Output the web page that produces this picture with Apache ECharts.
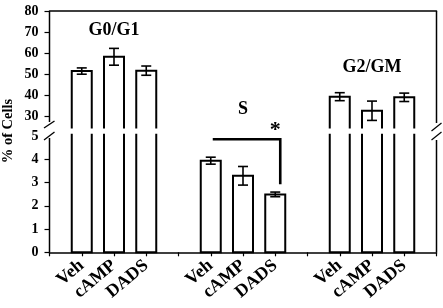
<!DOCTYPE html>
<html>
<head>
<meta charset="utf-8">
<script src="https://cdn.jsdelivr.net/npm/echarts@6/dist/echarts.min.js"></script>
<style>html,body{margin:0;padding:0;background:#fff;}#c{width:443px;height:308px;}</style>
</head>
<body>
<div id="c"></div>
<script>
const treatments = ['Veh', 'cAMP', 'DADS'];
const phases = ['G0/G1', 'S', 'G2/GM'];
const g0g1Mean = [51.4, 58.2, 51.6];
const g0g1Err = [1.5, 4.0, 2.2];
const sMean = [3.94, 3.29, 2.49];
const sErr = [0.15, 0.40, 0.10];
const g2gmMean = [39.2, 32.5, 38.9];
const g2gmErr = [1.9, 4.6, 2.0];
const upperTicks = [30, 40, 50, 60, 70, 80];
const lowerTicks = [0, 1, 2, 3, 4, 5];
const lowerTickMarks = [0, 1, 2, 3, 4];
const yAxisTitle = '% of Cells';
const sigMark = '*';

// build category axis: spacer, 3 treatments per phase, ..., spacer
const categories = [];
const phaseMeans = [g0g1Mean, sMean, g2gmMean];
const phaseErrs = [g0g1Err, sErr, g2gmErr];
const upperBars = [], lowerBars = [], upperErr = [], lowerErr = [];
phases.forEach((p, pi) => {
  categories.push('');
  treatments.forEach((t, ti) => {
    const idx = categories.length;
    categories.push(t);
    const m = phaseMeans[pi][ti], e = phaseErrs[pi][ti];
    lowerBars.push([idx, m]);
    if (p === 'S') { lowerErr.push([idx, m, e]); }
    else { upperBars.push([idx, m]); upperErr.push([idx, m, e]); }
  });
});
categories.push('');

const FONT = "'Liberation Serif', 'Times New Roman', serif";
const UP_MIN = 24, UP_MAX = 80, LO_MIN = 0, LO_MAX = 5.1;

function renderErr(params, api) {
  const x = api.value(0), y = api.value(1), e = api.value(2);
  const top = api.coord([x, y + e]);
  const bot = api.coord([x, y - e]);
  const hw = 5;
  const st = { stroke: '#000', lineWidth: 1.6 };
  return { type: 'group', children: [
    { type: 'line', shape: { x1: top[0], y1: top[1], x2: bot[0], y2: bot[1] }, style: st },
    { type: 'line', shape: { x1: top[0] - hw, y1: top[1], x2: top[0] + hw, y2: top[1] }, style: st },
    { type: 'line', shape: { x1: bot[0] - hw, y1: bot[1], x2: bot[0] + hw, y2: bot[1] }, style: st }
  ]};
}

// bars with open ends where the axis is broken
function makeBarRenderer(isUpper) {
  return function (params, api) {
    const x = api.value(0), v = api.value(1);
    const cs = params.coordSys;
    const hw = 10;
    const c = api.coord([x, v]);
    const l = c[0] - hw, r = c[0] + hw;
    const gTop = cs.y, gBot = cs.y + cs.height;
    const ty = Math.max(c[1], gTop);
    const st = { stroke: '#000', lineWidth: 2, fill: null };
    let pts, open;
    if (isUpper) { pts = [[l, gBot], [l, ty], [r, ty], [r, gBot]]; open = true; }
    else if (c[1] <= gTop) { pts = [[l, gTop], [l, gBot], [r, gBot], [r, gTop]]; open = true; }
    else { open = false; }
    if (open) {
      return { type: 'group', children: [
        { type: 'rect', shape: { x: l, y: Math.min(pts[0][1], pts[1][1]), width: 2 * hw, height: Math.abs(pts[1][1] - pts[0][1]) }, style: { fill: '#fff' } },
        { type: 'polyline', shape: { points: pts }, style: st }
      ]};
    }
    return { type: 'rect', shape: { x: l, y: ty, width: 2 * hw, height: gBot - ty }, style: { fill: '#fff', stroke: '#000', lineWidth: 2 } };
  };
}

const chart = echarts.init(document.getElementById('c'), null, { renderer: 'canvas' });
const yLabel = { color: '#000', fontFamily: FONT, fontWeight: 'bold', fontSize: 14, margin: 11 };

chart.setOption({
  animation: false,
  backgroundColor: '#fff',
  grid: [
    { left: 49.5, right: 6.5, top: 11, height: 117.6 },
    { left: 49.5, right: 6.5, top: 133.7, bottom: 55.7 }
  ],
  xAxis: [
    { gridIndex: 0, type: 'category', data: categories, boundaryGap: false, position: 'top',
      axisLine: { show: true, lineStyle: { color: '#000', width: 1.5 } },
      axisTick: { show: false }, axisLabel: { show: false } },
    { gridIndex: 1, type: 'category', data: categories, boundaryGap: false,
      axisLine: { lineStyle: { color: '#000', width: 1.5 } },
      axisTick: { show: true, length: 4, interval: 0, lineStyle: { color: '#000', width: 1.2 } },
      axisLabel: { interval: 0, rotate: 40, margin: 11, color: '#000', fontFamily: FONT, fontWeight: 'bold', fontSize: 18 } }
  ],
  yAxis: [
    { gridIndex: 0, type: 'value', min: UP_MIN, max: UP_MAX,
      axisLine: { show: false },
      axisTick: { show: true, length: 5, customValues: upperTicks, lineStyle: { color: '#000', width: 1.2 } },
      axisLabel: Object.assign({ customValues: upperTicks }, yLabel),
      splitLine: { show: false } },
    { gridIndex: 1, type: 'value', min: LO_MIN, max: LO_MAX,
      axisLine: { show: false },
      axisTick: { show: true, length: 5, customValues: lowerTickMarks, lineStyle: { color: '#000', width: 1.2 } },
      axisLabel: Object.assign({ customValues: lowerTicks }, yLabel),
      splitLine: { show: false } }
  ],
  series: [
    { type: 'custom', xAxisIndex: 0, yAxisIndex: 0, data: upperBars, renderItem: makeBarRenderer(true), encode: { x: 0, y: 1 }, z: 3 },
    { type: 'custom', xAxisIndex: 1, yAxisIndex: 1, data: lowerBars, renderItem: makeBarRenderer(false), encode: { x: 0, y: 1 }, z: 3 },
    { type: 'custom', xAxisIndex: 0, yAxisIndex: 0, data: upperErr, renderItem: renderErr, encode: { x: 0, y: 1 }, z: 5 },
    { type: 'custom', xAxisIndex: 1, yAxisIndex: 1, data: lowerErr, renderItem: renderErr, encode: { x: 0, y: 1 }, z: 5 }
  ]
});

// annotation positions (in data space)
const phaseLabelCat = [2, 6, 10];
const phaseLabelVal = [71, 33.3, 53.1];
const bracketFrom = 5, bracketTo = 7, bracketTopVal = 4.86, bracketBotVal = 2.93;
const starCat = 7, starVal = 24.6;

const up = (c, v) => chart.convertToPixel({ xAxisIndex: 0, yAxisIndex: 0 }, [c, v]);
const lo = (c, v) => chart.convertToPixel({ xAxisIndex: 1, yAxisIndex: 1 }, [c, v]);

const g = [];
// frame side lines with breaks
const xL = up(0, UP_MAX)[0], xR = up(categories.length - 1, UP_MAX)[0];
const yT = up(0, UP_MAX)[1], yB = lo(0, LO_MIN)[1];
const fr = { stroke: '#000', lineWidth: 1.5 };
g.push({ type: 'line', shape: { x1: xL, y1: yT, x2: xL, y2: 122 }, style: fr });
g.push({ type: 'line', shape: { x1: xL, y1: 138, x2: xL, y2: yB }, style: fr });
g.push({ type: 'line', shape: { x1: xR, y1: yT, x2: xR, y2: 123 }, style: fr });
g.push({ type: 'line', shape: { x1: xR, y1: 140, x2: xR, y2: yB }, style: fr });
// break slashes
const sl = { stroke: '#000', lineWidth: 1.3 };
g.push({ type: 'line', shape: { x1: xL - 5.5, y1: 128, x2: xL + 5, y2: 121 }, style: sl });
g.push({ type: 'line', shape: { x1: xL - 5.5, y1: 140, x2: xL + 5, y2: 132 }, style: sl });
g.push({ type: 'line', shape: { x1: xR - 5, y1: 131, x2: xR + 5, y2: 123 }, style: sl });
g.push({ type: 'line', shape: { x1: xR - 5, y1: 140, x2: xR + 5, y2: 132 }, style: sl });

phases.forEach((p, i) => {
  const pt = up(phaseLabelCat[i], phaseLabelVal[i]);
  g.push({ type: 'text', x: pt[0], y: pt[1],
    style: { text: p, fill: '#000', font: 'bold 18px ' + FONT, align: 'center', verticalAlign: 'middle' } });
});

const b1 = lo(bracketFrom, bracketTopVal);
const b2 = lo(bracketTo, bracketTopVal);
const b3 = lo(bracketTo, bracketBotVal);
g.push({ type: 'polyline',
  shape: { points: [[b1[0] + 2, b1[1]], [b2[0] + 5, b2[1]], [b3[0] + 5, b3[1]]] },
  style: { stroke: '#000', lineWidth: 2.6, fill: null } });
const sp = up(starCat, starVal);
g.push({ type: 'text', x: sp[0], y: sp[1] + 3,
  style: { text: sigMark, fill: '#000', font: 'bold 22px ' + FONT, align: 'center', verticalAlign: 'middle' } });

g.push({ type: 'text', x: 8.5, y: 131, rotation: Math.PI / 2,
  style: { text: yAxisTitle, fill: '#000', font: 'bold 14.5px ' + FONT, align: 'center', verticalAlign: 'middle' } });

chart.setOption({ graphic: { elements: g } });
</script>
</body>
</html>
